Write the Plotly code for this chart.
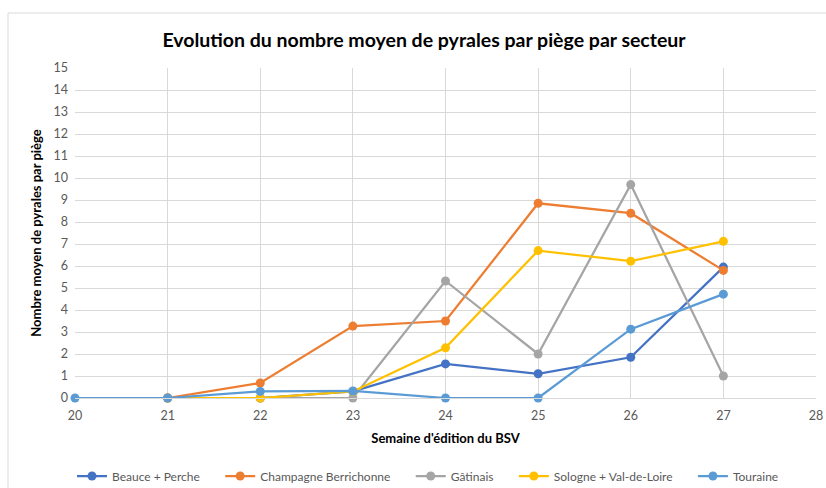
import plotly.graph_objects as go

weeks = [20, 21, 22, 23, 24, 25, 26, 27]
beauce = [None, 0, 0, 0.3, 1.55, 1.1, 1.85, 5.95]
champagne = [None, 0, 0.68, 3.27, 3.5, 8.85, 8.4, 5.8]
gatinais = [None, None, 0, 0, 5.32, 2.0, 9.7, 1.0]
sologne = [None, 0, 0, 0.3, 2.28, 6.7, 6.22, 7.12]
touraine = [0, 0, 0.3, 0.32, 0, 0, 3.13, 4.72]

NB = "\u00a0" * 5
series = [
    ("Beauce + Perche", beauce, "#4472C4"),
    ("Champagne Berrichonne", champagne, "#ED7D31"),
    ("Gâtinais", gatinais, "#A5A5A5"),
    ("Sologne + Val-de-Loire", sologne, "#FFC000"),
    ("Touraine", touraine, "#5B9BD5"),
]

FONT = "Lato, 'Open Sans', sans-serif"

fig = go.Figure()
for i, (name, vals, col) in enumerate(series):
    label = name + (NB if i < len(series) - 1 else "")
    fig.add_trace(go.Scatter(
        x=weeks, y=vals, name=label, mode="lines+markers",
        line=dict(color=col, width=2.25),
        marker=dict(color=col, size=9, symbol="circle"),
        connectgaps=False, cliponaxis=False,
    ))

fig.update_layout(
    width=826, height=488,
    margin=dict(l=75, r=10, t=68, b=90),
    paper_bgcolor="white", plot_bgcolor="white",
    font=dict(family=FONT, size=12, color="#595959"),
    title=dict(text="<b>Evolution du nombre moyen de pyrales par piège par secteur</b>",
               x=424/826, xanchor="center", y=1-40/488, yanchor="middle",
               font=dict(family=FONT, size=19.5, color="black")),
    xaxis=dict(range=[20, 28], dtick=1, tick0=20, showgrid=True, gridcolor="#D9D9D9",
               gridwidth=1, zeroline=False, showline=True, linecolor="#D9D9D9",
               ticks="", ticklabelstandoff=6, tickfont=dict(size=12.5, color="#595959"),
               automargin=False,
               title=dict(text="<b>Semaine d'édition du BSV</b>",
                          font=dict(family=FONT, size=13, color="black"), standoff=11)),
    yaxis=dict(range=[0, 15], dtick=1, tick0=0, showgrid=True, gridcolor="#D9D9D9",
               gridwidth=1, zeroline=False, showline=False, automargin=False,
               ticks="", ticklabelstandoff=6, tickfont=dict(size=12.5, color="#595959"),
               title=dict(text="<b>Nombre moyen de pyrales par piège</b>",
                          font=dict(family=FONT, size=13, color="black"), standoff=8)),
    legend=dict(orientation="h", x=(428-75)/741, xanchor="center",
                yref="container", y=1-476/488, yanchor="middle",
                font=dict(family=FONT, size=12, color="#595959"),
                itemwidth=30, tracegroupgap=0),
    showlegend=True,
)

fig.add_shape(type="rect", xref="paper", yref="paper",
              x0=(8-75)/741, x1=1.05, y0=-0.4, y1=(398-13)/330,
              line=dict(color="#D9D9D9", width=1), fillcolor="rgba(0,0,0,0)", layer="below")

fig.write_html("out.html", config={"displayModeBar": False},
               post_script="document.body.style.margin='0';document.body.style.padding='0';")
